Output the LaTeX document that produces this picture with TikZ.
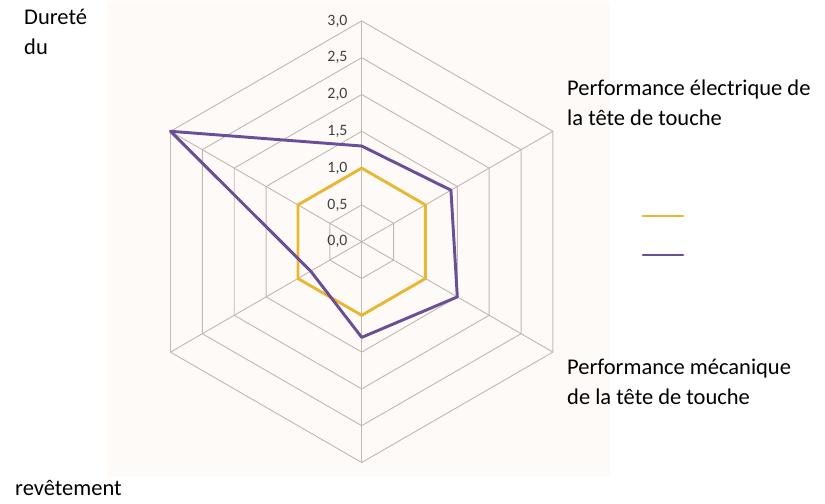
\documentclass[tikz,border=0pt]{standalone}
\usepackage{fontspec}
\setmainfont{Carlito}
\usetikzlibrary{positioning}
\definecolor{gridgray}{RGB}{196,184,180}
\definecolor{chartbg}{RGB}{254,250,248}
\definecolor{seriesgold}{RGB}{232,183,52}
\definecolor{seriespurple}{RGB}{106,78,150}
\definecolor{ticktext}{RGB}{64,64,64}
\tikzset
{
    gridline/.style   = {draw=gridgray, line width=0.8pt},
    series/.style     = {line width=2.5pt, line join=round, draw=#1},
    ticklabel/.style  = {anchor=east, inner sep=0pt, text=ticktext, font=\fontsize{13.5}{13.5}\selectfont},
    axislabel/.style  = {anchor=west, align=left, inner sep=0pt, font=\fontsize{19.2}{25.6}\selectfont},
    legendline/.style = {line width=2.5pt, line cap=round, draw=#1}
}

\begin{document}
\begin{tikzpicture}[x=0.03cm, y=0.03cm]

   \newcommand\CX{361.7}
   \newcommand\CY{261.3}
   \newcommand\RSTEP{36.8}
   \newcommand\RUNIT{73.6}

   \useasboundingbox (0,0) rectangle (825,503);
   \fill[chartbg] (107,26) rectangle (610,501);

   \coordinate (c) at (\CX,\CY);

   \begin{scope}[shift={(c)}]
     % hexagonal grid
     \foreach \lvl in {1,...,6}
        \draw[gridline] (90:{\lvl*\RSTEP}) -- (30:{\lvl*\RSTEP}) -- (-30:{\lvl*\RSTEP})
                     -- (-90:{\lvl*\RSTEP}) -- (-150:{\lvl*\RSTEP}) -- (150:{\lvl*\RSTEP}) -- cycle;
     \foreach \a in {30,90,...,330}
        \draw[gridline] (0,0) -- (\a:{6*\RSTEP});

     % scale
     \foreach \i/\t in {0/{0,0},1/{0,5},2/{1,0},3/{1,5},4/{2,0},5/{2,5},6/{3,0}}
        \node (tick\i) [ticklabel] at (-14,{\i*\RSTEP}) {\t};

     % series 1
     \coordinate (g1) at (90:{1.0*\RUNIT});
     \coordinate (g2) at (30:{1.0*\RUNIT});
     \coordinate (g3) at (-30:{1.0*\RUNIT});
     \coordinate (g4) at (-90:{1.0*\RUNIT});
     \coordinate (g5) at (-150:{1.0*\RUNIT});
     \coordinate (g6) at (150:{1.0*\RUNIT});

     % series 2
     \coordinate (p1) at (90:{1.3*\RUNIT});
     \coordinate (p2) at (30:{1.4*\RUNIT});
     \coordinate (p3) at (-30:{1.5*\RUNIT});
     \coordinate (p4) at (-90:{1.3*\RUNIT});
     \coordinate (p5) at (-150:{0.8*\RUNIT});
     \coordinate (p6) at (150:{3.0*\RUNIT});
   \end{scope}

   \draw[series=seriesgold]   (g1) -- (g2) -- (g3) -- (g4) -- (g5) -- (g6) -- cycle;
   \draw[series=seriespurple] (p1) -- (p2) -- (p3) -- (p4) -- (p5) -- (p6) -- cycle;

   % legend
   \coordinate (lga) at (643,287);
   \coordinate (lgb) at (683,287);
   \coordinate (lpa) at (643,248);
   \coordinate (lpb) at (683,248);
   \draw[legendline=seriesgold]   (lga) -- (lgb);
   \draw[legendline=seriespurple] (lpa) -- (lpb);

   % axis labels
   \node (elec) [axislabel] at (567,400) {Performance électrique de\\la tête de touche};
   \node (meca) [axislabel] at (567,121) {Performance mécanique\\de la tête de touche};
   \node (dur)  [axislabel] at (24,471)  {Dureté\\du};
   \node (rev)  [axislabel] at (15,15)   {revêtement};

\end{tikzpicture}
\end{document}
